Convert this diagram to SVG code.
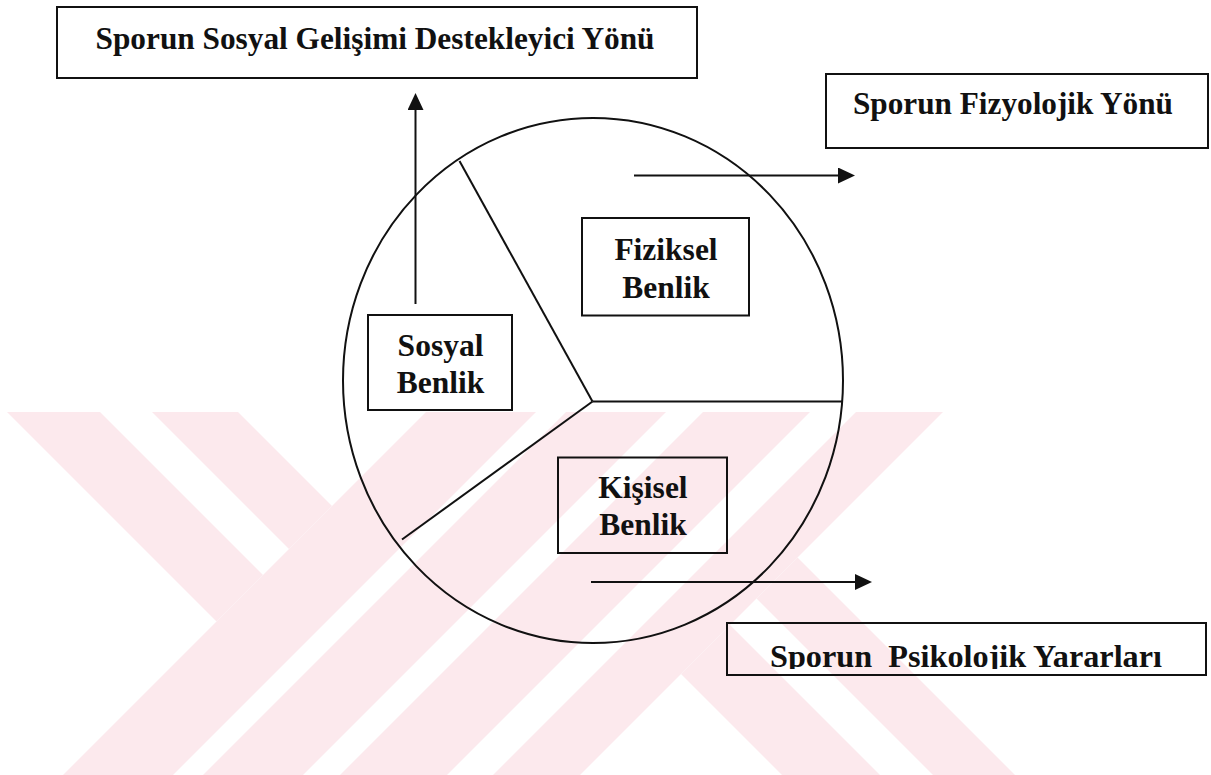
<svg xmlns="http://www.w3.org/2000/svg" width="1211" height="775" viewBox="0 0 1211 775">
<style>
.wm{fill:#fce9ed}
.box{fill:none;stroke:#111;stroke-width:2}
.ln{fill:none;stroke:#111;stroke-width:2}
.lbl{font-family:"Liberation Serif","Times New Roman",serif;font-weight:bold;font-size:31.5px;fill:#111;text-anchor:middle}
.ttl{font-family:"Liberation Serif","Times New Roman",serif;font-weight:bold;font-size:31px;fill:#111}
</style>
<defs>
<marker id="ah" markerUnits="userSpaceOnUse" markerWidth="18" markerHeight="16" refX="7" refY="8" orient="auto">
<path d="M0,0 L17,8 L0,16 z" fill="#111"/>
</marker>
<clipPath id="cut"><rect x="700" y="600" width="511" height="69"/></clipPath>
</defs>
<g id="watermark">
<polygon class="wm" points="7,412 100,412 263,575 216.5,621.5"/>
<polygon class="wm" points="152,412 238,412 332,506 289,549"/>
<polygon class="wm" points="426,412 536,412 173,775 63,775"/>
<polygon class="wm" points="566,412 666,412 303,775 203,775"/>
<polygon class="wm" points="703,412 810,412 447,775 340,775"/>
<polygon class="wm" points="856,412 943,412 580,775 493,775"/>
<polygon class="wm" points="797.5,557.5 1015,775 933,775 756.5,598.5"/>
<polygon class="wm" points="730,625 880,775 782,775 681,674"/>
</g>
<g id="circle">
<ellipse class="ln" cx="593" cy="380.5" rx="250" ry="262.5"/>
<line class="ln" x1="592.5" y1="401.5" x2="459.5" y2="161"/>
<line class="ln" x1="592.5" y1="401.5" x2="842" y2="401.5"/>
<line class="ln" x1="592.5" y1="401.5" x2="402" y2="539.5"/>
</g>
<g id="connectors">
<line class="ln" x1="415.5" y1="304" x2="415.5" y2="103" marker-end="url(#ah)"/>
<line class="ln" x1="634" y1="175.5" x2="845" y2="175.5" marker-end="url(#ah)"/>
<line class="ln" x1="591" y1="582" x2="862" y2="582" marker-end="url(#ah)"/>
</g>
<g id="n-sosyal-gelisim">
<rect class="box" x="57" y="7" width="640" height="71"/>
<text class="ttl" x="95.5" y="48.5" textLength="559" lengthAdjust="spacingAndGlyphs">Sporun Sosyal Gelişimi Destekleyici Yönü</text>
</g>
<g id="n-fizyolojik">
<rect class="box" x="826" y="74" width="382" height="74"/>
<text class="ttl" x="853" y="114" textLength="320" lengthAdjust="spacingAndGlyphs">Sporun Fizyolojik Yönü</text>
</g>
<g id="n-psikolojik">
<rect class="box" x="727" y="623" width="479" height="52"/>
<text class="ttl" x="770" y="667" font-size="33" textLength="392" lengthAdjust="spacingAndGlyphs" xml:space="preserve" clip-path="url(#cut)">Sporun  Psikolojik Yararları</text>
</g>
<g id="n-fiziksel">
<rect class="box" x="582" y="218" width="167" height="97.5"/>
<text class="lbl" x="666" y="259.5">Fiziksel</text>
<text class="lbl" x="666" y="297.5">Benlik</text>
</g>
<g id="n-sosyal">
<rect class="box" x="368" y="315" width="144" height="95"/>
<text class="lbl" x="440.5" y="355.5">Sosyal</text>
<text class="lbl" x="440.5" y="392.5">Benlik</text>
</g>
<g id="n-kisisel">
<rect class="box" x="558" y="457.5" width="169" height="95.5"/>
<text class="lbl" x="643" y="497.5">Kişisel</text>
<text class="lbl" x="643" y="535">Benlik</text>
</g>
</svg>
